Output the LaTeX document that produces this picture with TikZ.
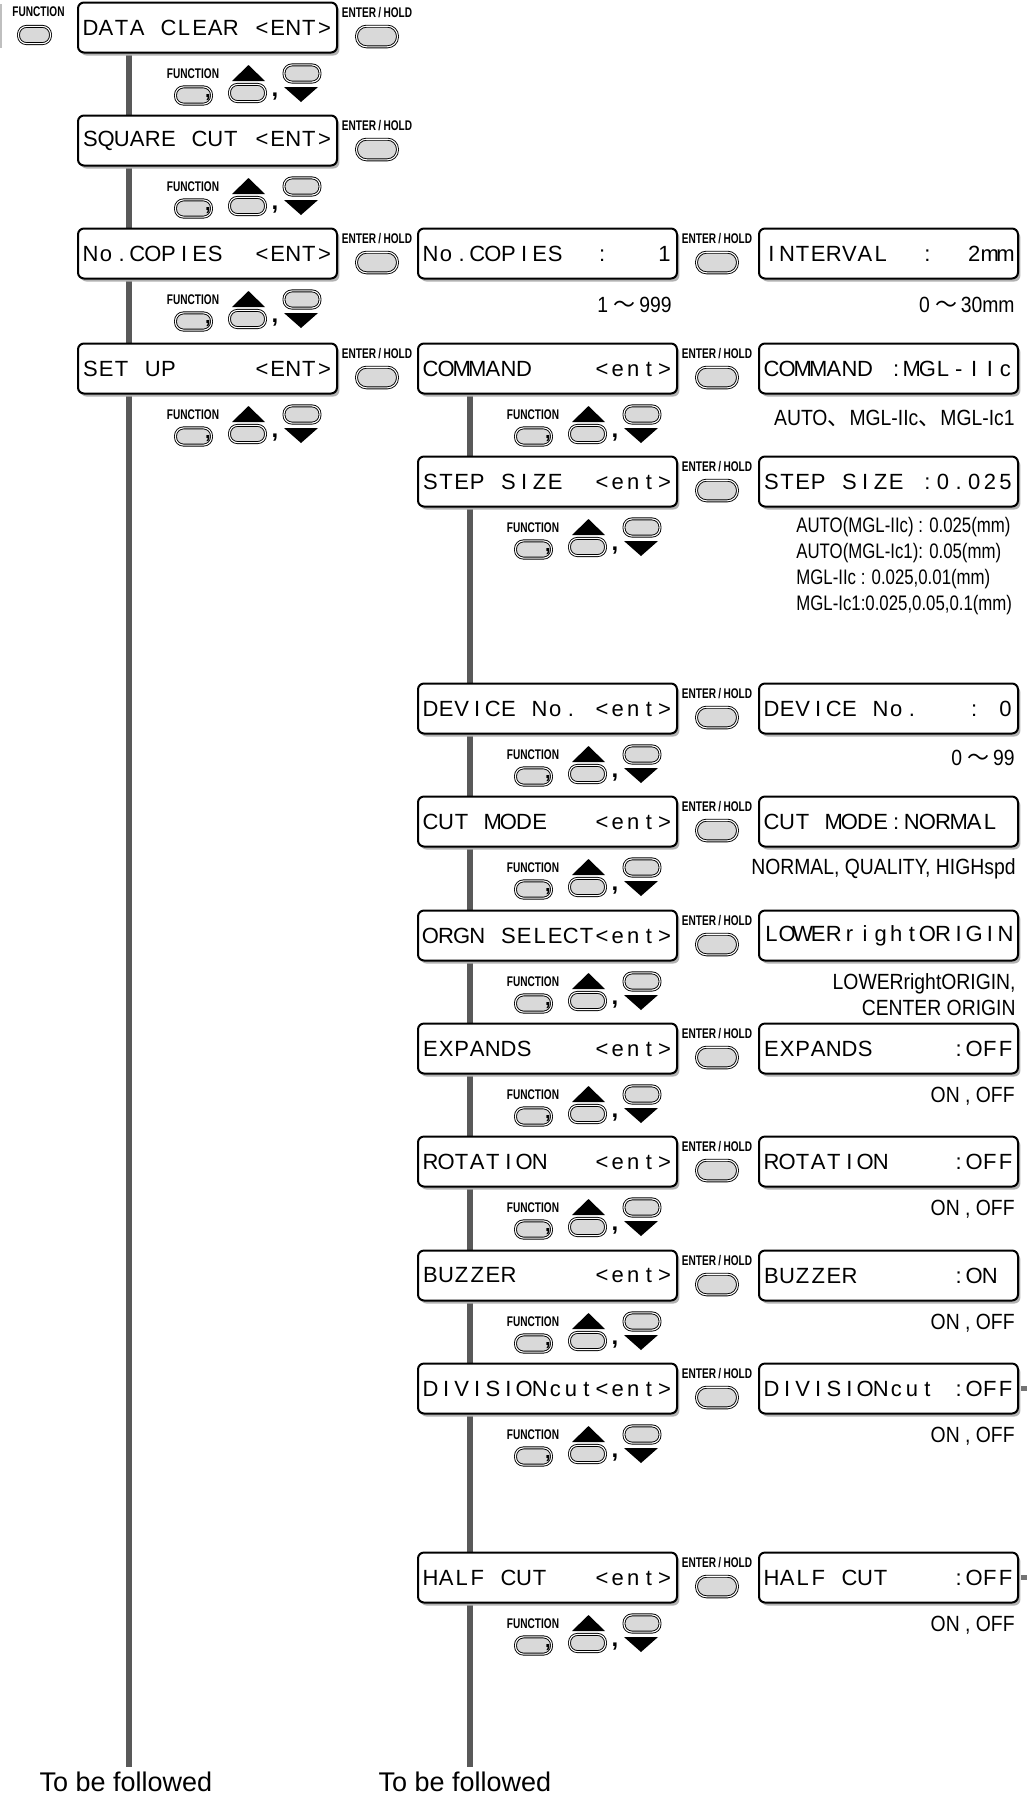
\documentclass[tikz,border=0pt]{standalone}
\usepackage{fontspec}
\setmainfont{Liberation Sans}
\newfontfamily\lcdfont{Liberation Sans}
\newfontfamily\notefont[FakeStretch=0.88]{Liberation Sans}
\newfontfamily\narrownote[FakeStretch=0.8]{Liberation Sans}
\newfontfamily\keyfont[FakeStretch=0.72]{Liberation Sans Bold}
\newfontfamily\cjkfont{Noto Sans CJK JP}
\usetikzlibrary{shadows,backgrounds}

% one character per display cell
\def\lcd#1{\expandafter\lcdloop#1\relax}
\def\lcdloop#1{\ifx#1\relax\else\makebox[7.8pt]{#1}\expandafter\lcdloop\fi}

\begin{document}
\begin{tikzpicture}[x=0.5pt, y=-0.5pt,
                    lcdbox/.style={draw, line width=1pt, rounded corners=3pt, fill=white,
                      minimum width=129.5pt, minimum height=25pt, inner sep=0pt,
                      font=\lcdfont\fontsize{11}{12}\selectfont,
                      drop shadow={shadow xshift=1.2pt, shadow yshift=-1.5pt, fill=black!30, opacity=1}},
                    btn/.style={draw, line width=0.45pt, double=white, double distance=0.55pt,
                      fill=black!15, rounded corners=4pt, minimum width=18pt, minimum height=8.6pt, inner sep=0pt},
                    entbtn/.style={btn, minimum width=20.5pt, minimum height=10.3pt, rounded corners=5pt},
                    keylabel/.style={font=\keyfont\fontsize{7}{8}\selectfont, inner sep=0pt},
                    sepcomma/.style={font=\bfseries\fontsize{12}{12}\selectfont, inner sep=0pt, anchor=base},
                    note/.style={font=\notefont\fontsize{11}{13}\selectfont, inner sep=0pt},
                    spine/.style={line width=2.8pt, black!65},
                    follow/.style={font=\fontsize{13.5}{16}\selectfont, inner sep=0pt}
                    ]

                    \useasboundingbox (0,0) rectangle (1027,1796);
                    \fill[black!25] (0,4) rectangle (2,48);

                    \node[keylabel] (topfnlab) at (38.5,12) {FUNCTION};
                    \node[btn, minimum width=16pt] (topfn) at (34.5,35) {};

                    \foreach \nm/\ty/\txt in {data/2/DATA~CLEAR~<ENT>, sq/115/SQUARE~CUT~<ENT>,
                                              cop/228/No.COPIES~~<ENT>, set/343/SET~UP~~~~~<ENT>}{
                        \node[lcdbox] (l\nm) at (207.5,\ty+25.5) {\lcd\txt};
                        \node[keylabel] (l\nm-entlab) at (377,\ty+11) {ENTER\,/\,HOLD};
                        \node[entbtn] (l\nm-ent) at (377,\ty+34.5) {};
                    }

                    \foreach \nm/\ty/\txtm/\txtr in {cop/228/No.COPIES~~:~~~1/INTERVAL~~:~~2mm,
                                                     cmd/343/COMMAND~~~~<ent>/COMMAND~:MGL-IIc,
                                                     step/456/STEP~SIZE~~<ent>/STEP~SIZE~:0.025,
                                                     dev/683/DEVICE~No.~<ent>/DEVICE~No.~~~:~0,
                                                     cut/796/CUT~MODE~~~<ent>/CUT~MODE:NORMAL~,
                                                     orgn/910/ORGN~SELECT<ent>/LOWERrightORIGIN,
                                                     exp/1023/EXPANDS~~~~<ent>/EXPANDS~~~~~:OFF,
                                                     rot/1136/ROTATION~~~<ent>/ROTATION~~~~:OFF,
                                                     buz/1250/BUZZER~~~~~<ent>/BUZZER~~~~~~:ON~,
                                                     div/1363/DIVISIONcut<ent>/DIVISIONcut~:OFF,
                                                     half/1552/HALF~CUT~~~<ent>/HALF~CUT~~~~:OFF}{
                        \node[lcdbox] (m\nm) at (547.5,\ty+25.5) {\lcd\txtm};
                        \node[keylabel] (m\nm-entlab) at (717,\ty+11) {ENTER\,/\,HOLD};
                        \node[entbtn] (m\nm-ent) at (717,\ty+34.5) {};
                        \node[lcdbox] (r\nm) at (888.5,\ty+25.5) {\lcd\txtr};
                    }

                    % FUNCTION, up / down keys under each item
                    \foreach \g/\lx/\ty in {la/77/2, lb/77/115, lc/77/228, ld/77/343,
                                            ma/417/343, mb/417/456, mc/417/683, md/417/796, me/417/910,
                                            mf/417/1023, mg/417/1136, mh/417/1250, mi/417/1363, mj/417/1552}{
                        \node[keylabel] (\g-lab) at (\lx+116,\ty+72) {FUNCTION};
                        \node[btn] (\g-fn) at (\lx+116.5,\ty+93.5) {};
                        \node[btn] (\g-up) at (\lx+170.5,\ty+91) {};
                        \node[btn] (\g-dn) at (\lx+225,\ty+71.5) {};
                        \fill (\lx+155,\ty+79) -- (\lx+171.5,\ty+63) -- (\lx+188,\ty+79) -- cycle;
                        \fill (\lx+207,\ty+85) -- (\lx+241,\ty+85) -- (\lx+224,\ty+100) -- cycle;
                        \node[sepcomma, font=\bfseries\fontsize{10}{10}\selectfont] (\g-c1) at (\lx+131,\ty+95) {,};
                        \node[sepcomma] (\g-c2) at (\lx+198,\ty+94) {,};
                    }

                    \node[note, anchor=east] (ncop) at (672,305) {1 {\cjkfont ～}\,999};
                    \node[note, anchor=east] (nint) at (1015,305) {0 {\cjkfont ～}\,30mm};
                    \node[note, anchor=east] (ncmd) at (1015,418) {AUTO{\cjkfont 、}MGL-IIc{\cjkfont 、}MGL-Ic1};
                    \node[note, anchor=west, align=left, font=\narrownote\fontsize{10.5}{13}\selectfont] (nstep) at (796,566)
                        {AUTO(MGL-IIc) : 0.025(mm)\\AUTO(MGL-Ic1): 0.05(mm)\\MGL-IIc : 0.025,0.01(mm)\\MGL-Ic1:0.025,0.05,0.1(mm)};
                    \node[note, anchor=east] (ndev) at (1015,758) {0 {\cjkfont ～}\,99};
                    \node[note, anchor=east] (ncut) at (1016,869) {NORMAL, QUALITY, HIGHspd};
                    \node[note, anchor=east, align=right] (norgn) at (1016,995) {LOWERrightORIGIN,\\CENTER ORIGIN};
                    \foreach \nm/\ty in {exp/1023, rot/1136, buz/1250, div/1363, half/1552}{
                        \node[note, anchor=east] (n\nm) at (1015,\ty+73) {ON , OFF};
                    }

                    \fill[black!55] ([xshift=1pt]rdiv.east) ++(0,-2.5) rectangle ++(7,5);
                    \fill[black!55] ([xshift=1pt]rhalf.east) ++(0,-2.5) rectangle ++(7,5);

                    \coordinate (lend) at (129,1767);
                    \coordinate (mend) at (470,1767);
                    \begin{scope}[on background layer]
                        \draw[spine] (ldata.south -| lend) -- (lend);
                        \draw[spine] (mcmd.south -| mend) -- (mend);
                    \end{scope}
                    \node[follow] (lfol) at (126,1782) {To be followed};
                    \node[follow] (mfol) at (465,1782) {To be followed};

                \end{tikzpicture}
\end{document}
